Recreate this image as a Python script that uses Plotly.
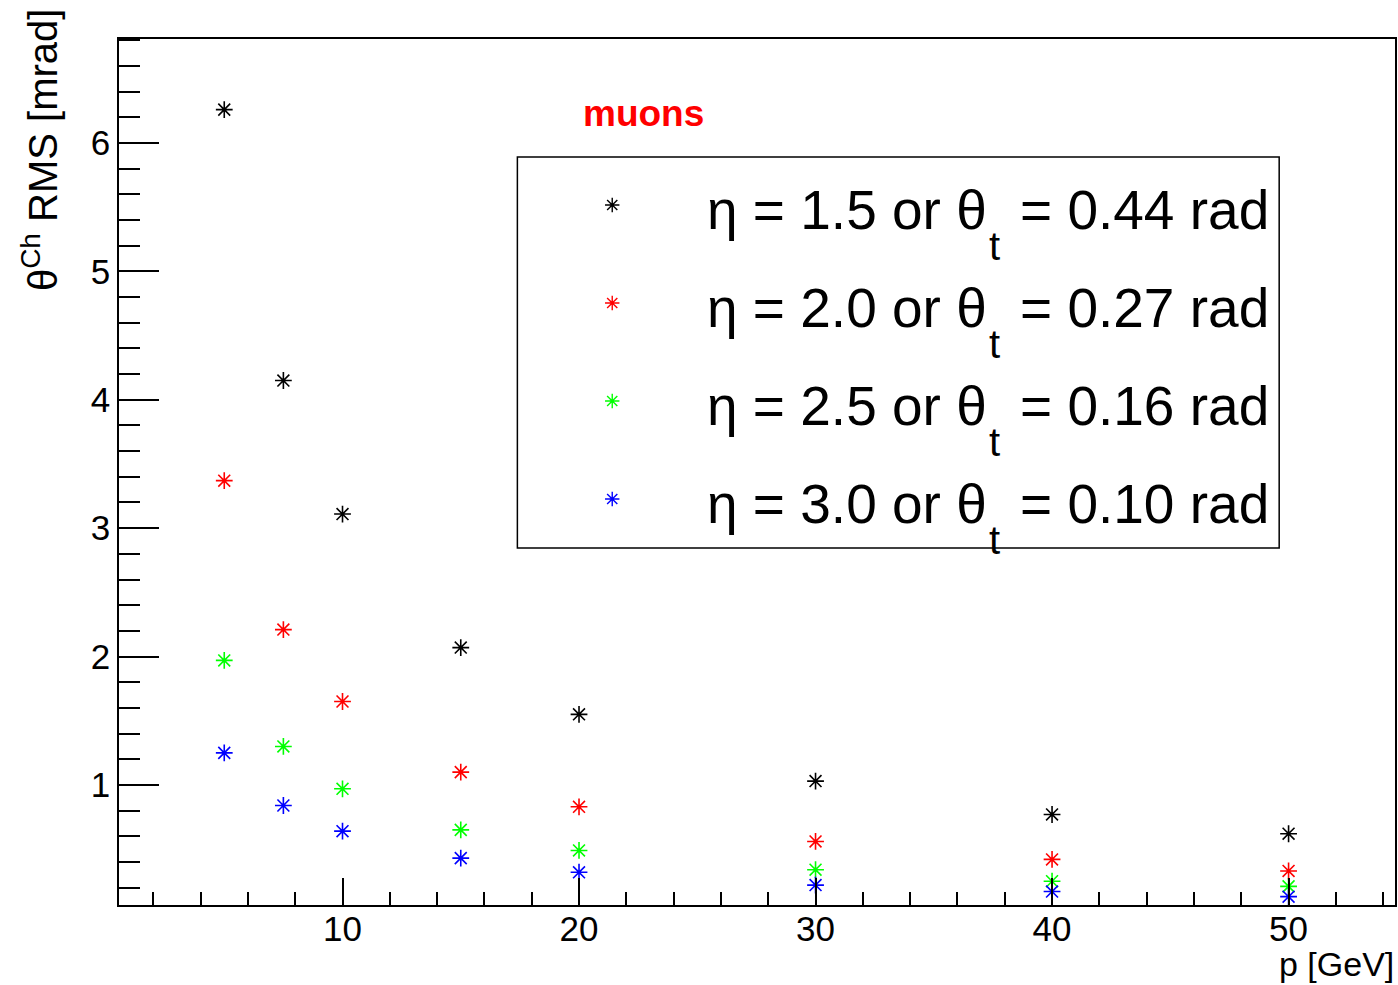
import plotly.graph_objects as go

# ---- data ----
p_gev = [5, 7.5, 10, 15, 20, 30, 40, 50]
rms_eta15 = [6.26, 4.15, 3.11, 2.07, 1.55, 1.03, 0.77, 0.62]
rms_eta20 = [3.37, 2.21, 1.65, 1.10, 0.83, 0.56, 0.42, 0.33]
rms_eta25 = [1.97, 1.30, 0.97, 0.65, 0.49, 0.34, 0.25, 0.21]
rms_eta30 = [1.25, 0.84, 0.64, 0.43, 0.32, 0.22, 0.17, 0.13]
eta_labels = ["1.5", "2.0", "2.5", "3.0"]
theta_labels = ["0.44", "0.27", "0.16", "0.10"]
series_colors = ["#000000", "#ff0000", "#00ff00", "#0000ff"]
x_ticks = [10, 20, 30, 40, 50]
y_ticks = [1, 2, 3, 4, 5, 6]

W, H = 1398, 985
L, R, T, B = 119, 1, 39, 80
PW, PH = W - L - R, H - T - B


def px(xp):
    return (xp - L) / PW


def py(yp):
    return (H - B - yp) / PH


FONT = "Liberation Sans, Arial, Helvetica, sans-serif"

fig = go.Figure()
all_series = [rms_eta15, rms_eta20, rms_eta25, rms_eta30]
for vals, col, eta, th in zip(all_series, series_colors, eta_labels, theta_labels):
    fig.add_trace(go.Scatter(
        x=p_gev, y=vals, mode="markers",
        name=f"η = {eta} or θt = {th} rad", showlegend=False,
        marker=dict(symbol="asterisk-open", size=14, color=col,
                    line=dict(color=col, width=1.6)),
    ))

# legend markers on an overlay axis (0..1 in plot area)
leg_rows_y = [205, 303, 401, 499]
for i, col in enumerate(series_colors):
    fig.add_trace(go.Scatter(
        x=[px(613)], y=[py(leg_rows_y[i])], xaxis="x2", yaxis="y2",
        mode="markers", showlegend=False, hoverinfo="skip",
        marker=dict(symbol="asterisk-open", size=12, color=col,
                    line=dict(color=col, width=1.4)),
    ))

annotations = []
for i, (eta, th) in enumerate(zip(eta_labels, theta_labels)):
    yc = leg_rows_y[i] + 5
    annotations.append(dict(
        x=px(706), y=py(yc), xref="paper", yref="paper",
        text=f"η = {eta} or θ", showarrow=False, xanchor="left", yanchor="middle",
        font=dict(family=FONT, size=55, color="black"),
    ))
    annotations.append(dict(
        x=px(996), y=py(yc + 36), xref="paper", yref="paper",
        text="t", showarrow=False, xanchor="center", yanchor="middle",
        font=dict(family=FONT, size=40, color="black"),
    ))
    annotations.append(dict(
        x=px(1273), y=py(yc), xref="paper", yref="paper",
        text=f"= {th} rad", showarrow=False, xanchor="right", yanchor="middle",
        font=dict(family=FONT, size=55, color="black"),
    ))
annotations.append(dict(
    x=px(644), y=py(113), xref="paper", yref="paper", text="<b>muons</b>",
    showarrow=False, xanchor="center", yanchor="middle",
    font=dict(family=FONT, size=37, color="#ff0000"),
))
annotations.append(dict(
    x=px(40), y=py(150), xref="paper", yref="paper",
    text="θ<sup>Ch</sup> RMS [mrad]", textangle=-90, showarrow=False,
    xanchor="center", yanchor="middle",
    font=dict(family=FONT, size=40, color="black"),
))
annotations.append(dict(
    x=px(1398), y=py(964), xref="paper", yref="paper", text="p [GeV]",
    showarrow=False, xanchor="right", yanchor="middle",
    font=dict(family=FONT, size=34, color="black"),
))

fig.update_layout(
    width=W, height=H,
    margin=dict(l=L, r=R, t=T, b=B),
    paper_bgcolor="white", plot_bgcolor="white",
    showlegend=False,
    xaxis=dict(
        range=[0.55, 54.5], tickvals=x_ticks, ticks="inside", ticklen=27,
        tickwidth=1.5, tickcolor="black", showgrid=False, zeroline=False,
        showline=True, linecolor="black", linewidth=1.5, mirror=True,
        tickfont=dict(family=FONT, size=35, color="black"),
        ticklabelstandoff=-8,
        minor=dict(ticks="inside", ticklen=13, tickwidth=1.5,
                   tickcolor="black", dtick=2, tick0=0, showgrid=False),
    ),
    yaxis=dict(
        range=[0.065, 6.81], tickvals=y_ticks, ticks="inside", ticklen=40,
        tickwidth=1.5, tickcolor="black", showgrid=False, zeroline=False,
        showline=True, linecolor="black", linewidth=1.5, mirror=True,
        tickfont=dict(family=FONT, size=35, color="black"),
        minor=dict(ticks="inside", ticklen=21, tickwidth=1.5,
                   tickcolor="black", dtick=0.2, tick0=0, showgrid=False),
    ),
    xaxis2=dict(overlaying="x", range=[0, 1], visible=False),
    yaxis2=dict(overlaying="y", range=[0, 1], visible=False),
    shapes=[dict(type="rect", xref="paper", yref="paper",
                 x0=px(518), x1=px(1281), y0=py(548), y1=py(157),
                 line=dict(color="black", width=1.5), fillcolor="rgba(0,0,0,0)")],
    annotations=annotations,
)

fig.write_html("out.html", config={"displayModeBar": False},
               post_script="document.body.style.margin='0';")
